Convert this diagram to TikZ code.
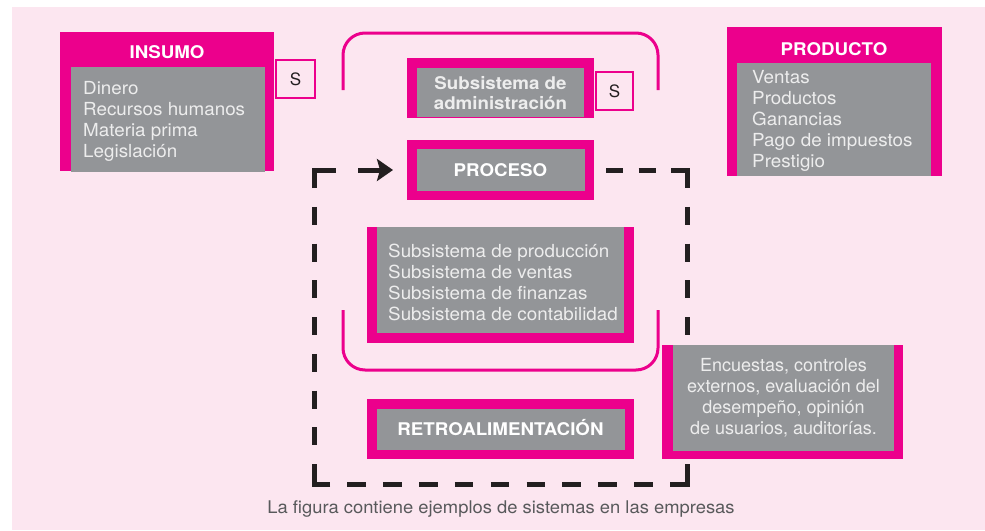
\documentclass[tikz,border=0pt]{standalone}
\usepackage{fontspec}
\setmainfont{TeX Gyre Heros}
\newfontfamily\widefont[FakeStretch=1.045]{TeX Gyre Heros}
\newfontfamily\titlefont[FakeStretch=1.07]{TeX Gyre Heros}
\newfontfamily\capfont[FakeStretch=1.05]{TeX Gyre Heros}
\usetikzlibrary{arrows.meta}
\definecolor{mag}{HTML}{EC008C}
\definecolor{gry}{HTML}{939598}
\definecolor{bgp}{HTML}{FCE6F0}
\definecolor{lgt}{HTML}{EDEDED}
\definecolor{dk}{HTML}{231F20}
\definecolor{capc}{HTML}{58595B}
\begin{document}
\begin{tikzpicture}[x=1pt,y=-1pt,
  magfill/.style={fill=mag},
  grayfill/.style={fill=gry},
  itemtext/.style={font=\widefont\fontsize{18}{21}\selectfont, text=lgt, align=left, inner sep=0pt, anchor=north west},
  enctext/.style={font=\fontsize{18}{21}\selectfont, text=lgt, align=center, inner sep=0pt},
  titletext/.style={font=\titlefont\bfseries\fontsize{17.5}{20}\selectfont, text=white, inner sep=0pt},
  sbox/.style={draw=mag, line width=2pt, fill=bgp, inner sep=0pt, font=\fontsize{17}{20}\selectfont, text=dk},
  pbox/.style={draw=mag, line width=9.5pt, fill=gry, inner sep=0pt, text=white,
     font=\titlefont\bfseries\fontsize{17.5}{20}\selectfont, text height=12.6pt, text depth=0pt},
  bracket/.style={draw=mag, line width=3pt, rounded corners=22pt},
  dframe/.style={draw=dk, line width=5pt}
]
\useasboundingbox (0,0) rectangle (985,530);
\fill[white] (0,0) rectangle (985,530);
\fill[bgp] (12,7) rectangle (985,530);

% INSUMO
\fill[magfill] (60,32) rectangle (274,171);
\fill[grayfill] (71,67) rectangle (265,172);
\node[titletext, anchor=base] (insumoT) at (167,58.3) {INSUMO};
\node[itemtext] (insumoI) at (83,81.5) {Dinero\\Recursos humanos\\Materia prima\\Legislación};
\node[sbox, minimum width=39pt, minimum height=38pt] (s1) at (295.5,79) {S};

% top bracket
\draw[bracket] (343,90) -- (343,33) -- (658,33) -- (658,90);

% administration
\fill[magfill] (407,58) rectangle (594,118);
\fill[grayfill] (417,68) rectangle (584,117);
\node[titletext, align=center, text=lgt] (adminT) at (500.5,93) {Subsistema de\\administración};
\node[sbox, minimum width=37pt, minimum height=38pt] (s2) at (614.5,91) {S};

% PRODUCTO
\fill[magfill] (727,27) rectangle (942,176);
\fill[grayfill] (737,63) rectangle (931,176);
\node[titletext, anchor=base] (prodT) at (834,55.3) {PRODUCTO};
\node[itemtext] (prodI) at (752,70.5) {Ventas\\Productos\\Ganancias\\Pago de impuestos\\Prestigio};

% PROCESO
\node[pbox, minimum width=177.5pt, minimum height=51pt] (proceso) at (500.5,170) {PROCESO};

% dashed frame
\draw[dframe] (314,188) -- (314,170) -- (336,170);
\draw[dframe] (671,170) -- (687,170) -- (687,188);
\draw[dframe] (687,464) -- (687,484) -- (670,484);
\draw[dframe] (330,484) -- (314,484) -- (314,464);
\draw[dframe, dash pattern=on 18pt off 18.75pt, dash phase=18pt] (314,188) -- (314,464);
\draw[dframe, dash pattern=on 18pt off 18.75pt, dash phase=18pt] (687,188) -- (687,464);
\draw[dframe, dash pattern=on 18.5pt off 17.35pt, dash phase=18.5pt] (330,484) -- (670,484);
\draw[dframe, dash pattern=on 17pt off 15.5pt, dash phase=20.5pt] (proceso.east) -- (671,170);
\coordinate (arrstart) at (358,170);
\draw[dframe, -{Stealth[length=16pt,width=22pt,inset=3pt]}, shorten >=14pt] (arrstart) -- (proceso.west);

% subsystems
\fill[magfill] (367,227) rectangle (634,343);
\fill[grayfill] (377,227) rectangle (624,333);
\node[itemtext] (subsI) at (388,243.5) {Subsistema de producción\\Subsistema de ventas\\Subsistema de finanzas\\Subsistema de contabilidad};

% bottom bracket
\draw[bracket] (343,310) -- (343,370) -- (658,370) -- (658,310);

% RETROALIMENTACION
\node[pbox, minimum width=257.5pt, minimum height=50.5pt] (retro) at (500.5,429) {RETROALIMENTACIÓN};

% Encuestas
\fill[magfill] (662,345) rectangle (903,459);
\fill[grayfill] (673,345) rectangle (894,451);
\node[enctext] (encI) at (783.5,398) {Encuestas, controles\\externos, evaluación del\\desempeño, opinión\\de usuarios, auditorías.};

% caption
\node[font=\capfont\fontsize{17.5}{20}\selectfont, text=capc, inner sep=0pt, anchor=base] (caption) at (501,513) {La figura contiene ejemplos de sistemas en las empresas};
\end{tikzpicture}
\end{document}
